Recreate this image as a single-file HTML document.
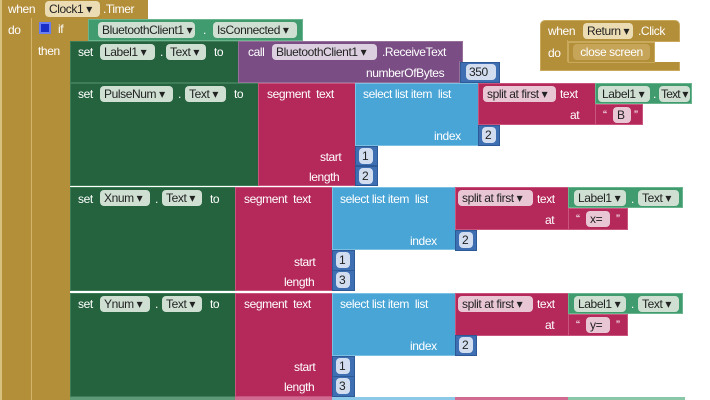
<!DOCTYPE html>
<html><head><meta charset="utf-8"><style>
body{margin:0;width:710px;height:400px;overflow:hidden;background:#fff;position:relative;font-family:"Liberation Sans",Arial,sans-serif;font-size:12px;letter-spacing:-0.4px}
.b{position:absolute;box-sizing:border-box}
.t{position:absolute;color:#fff;white-space:nowrap;line-height:14px}
.p{position:absolute;height:16px;line-height:16px;border-radius:4px;padding:0 4px;color:#222;white-space:nowrap;box-sizing:border-box;overflow:hidden}
.g{background:#b38f3a;border:1px solid #c9a95c}
.dg{background:#25633f;border:1px solid #3e7d58}
.pk{background:#b4295a;border:1px solid #c9557e}
.lb{background:#49a5d6;border:1px solid #7cc0e4}
.pu{background:#7a4e84;border:1px solid #957099}
.cg{background:#409c6e;border:1px solid #6ab58e}
.nb{background:#3d6fb2;border:1px solid #2d5a96}
.pg{background:#cfe0d3}
.pp{background:#e9c6d4}
.pn{background:#dcd0e0}
.pb{background:#d2def0;padding:0 3px}
.py{background:#ecdcb4}
</style></head><body>

<div class="b g" style="left:0;top:0;width:148px;height:19px;border:none"></div>
<div class="b g" style="left:0;top:0;width:31px;height:400px;border:none;border-left:2px solid #d8c07e"></div>
<div class="b" style="left:31px;top:18px;width:1px;height:382px;background:#d2b46c"></div>
<div class="t" style="left:8px;top:2px">when</div>
<div class="p py" style="left:45px;top:1px;width:55px">Clock1 ▾</div>
<div class="t" style="left:103px;top:2px">.Timer</div>
<div class="t" style="left:8px;top:23px">do</div>

<div class="b g" style="left:32px;top:18px;width:58px;height:23px;border:none"></div>
<div class="b g" style="left:32px;top:18px;width:38px;height:382px;border:none"></div>
<div class="b" style="left:39px;top:22px;width:12px;height:12px;background:#1a2ec8;border:2px solid #6c7ff0"></div>
<div class="t" style="left:58px;top:22px">if</div>
<div class="t" style="left:38px;top:44px">then</div>

<div class="b cg" style="left:88px;top:19px;width:215px;height:22px"></div>
<div class="p pg" style="left:98px;top:22px;width:97px">BluetoothClient1 ▾</div>
<div class="t" style="left:203px;top:23px">.</div>
<div class="p pg" style="left:213px;top:22px;width:84px">IsConnected ▾</div>

<div class="b dg" style="left:70px;top:41px;width:170px;height:42px"></div>
<div class="t" style="left:78px;top:45px">set</div>
<div class="p pg" style="left:100px;top:44px;width:55px">Label1 ▾</div>
<div class="t" style="left:160px;top:45px">.</div>
<div class="p pg" style="left:166px;top:44px;width:40px">Text ▾</div>
<div class="t" style="left:214px;top:45px">to</div>
<div class="b pu" style="left:238px;top:41px;width:225px;height:22px"></div>
<div class="b pu" style="left:238px;top:61px;width:222px;height:22px;border-top:none"></div>
<div class="t" style="left:248px;top:45px">call</div>
<div class="p pn" style="left:272px;top:44px;width:105px">BluetoothClient1 ▾</div>
<div class="t" style="left:382px;top:45px">.ReceiveText</div>
<div class="t" style="left:366px;top:66px">numberOfBytes</div>
<div class="b nb" style="left:460px;top:62px;width:40px;height:21px"></div>
<div class="p pb" style="left:466px;top:64px;width:30px">350</div>

<div class="b g" style="left:540px;top:20px;width:140px;height:22px;border-radius:5px 5px 0 0"></div>
<div class="b g" style="left:540px;top:40px;width:28px;height:31px;border-radius:0 0 0 5px;border-top:none"></div>
<div class="b g" style="left:540px;top:62px;width:140px;height:9px;border-top:none"></div>
<div class="t" style="left:548px;top:24px">when</div>
<div class="p py" style="left:583px;top:23px;width:50px">Return ▾</div>
<div class="t" style="left:638px;top:24px">.Click</div>
<div class="t" style="left:548px;top:46px">do</div>
<div class="b g" style="left:568px;top:42px;width:87px;height:21px"></div>
<div class="p py" style="left:573px;top:44px;width:77px;background:#c6a458;color:#fff;text-align:center">close screen</div>

<div class="b dg" style="left:70px;top:83px;width:190px;height:103px"></div>
<div class="t" style="left:78px;top:87px">set</div>
<div class="p pg" style="left:100px;top:86px;width:73px">PulseNum ▾</div>
<div class="t" style="left:178px;top:87px">.</div>
<div class="p pg" style="left:185px;top:86px;width:41px">Text ▾</div>
<div class="t" style="left:234px;top:87px">to</div>
<div class="b pk" style="left:258px;top:83px;width:98px;height:103px"></div>
<div class="t" style="left:267px;top:87px">segment&nbsp; text</div>
<div class="t" style="left:320px;top:150px">start</div>
<div class="t" style="left:309px;top:170px">length</div>
<div class="b lb" style="left:355px;top:83px;width:124px;height:63px"></div>
<div class="t" style="left:363px;top:87px">select list item&nbsp; list</div>
<div class="t" style="left:434px;top:129px">index</div>
<div class="b pk" style="left:478px;top:83px;width:118px;height:42px"></div>
<div class="p pp" style="left:483px;top:86px;width:73px">split at first ▾</div>
<div class="t" style="left:560px;top:87px">text</div>
<div class="t" style="left:570px;top:108px">at</div>
<div class="b cg" style="left:595px;top:83px;width:97px;height:21px"></div>
<div class="p pg" style="left:598px;top:86px;width:52px">Label1 ▾</div>
<div class="t" style="left:653px;top:87px">.</div>
<div class="p pg" style="left:659px;top:86px;width:31px;padding:0 2px;letter-spacing:-0.8px">Text ▾</div>
<div class="b pk" style="left:595px;top:104px;width:48px;height:21px"></div>
<div class="t" style="left:603px;top:108px">“</div>
<div class="p pp" style="left:613px;top:107px;width:18px">B</div>
<div class="t" style="left:634px;top:108px">”</div>
<div class="b nb" style="left:478px;top:125px;width:22px;height:21px"></div>
<div class="p pb" style="left:482px;top:127px;width:14px">2</div>
<div class="b nb" style="left:355px;top:146px;width:23px;height:20px"></div>
<div class="p pb" style="left:359px;top:148px;width:14px">1</div>
<div class="b nb" style="left:355px;top:166px;width:23px;height:20px"></div>
<div class="p pb" style="left:359px;top:168px;width:14px">2</div>

<div class="b dg" style="left:70px;top:187px;width:167px;height:104px"></div>
<div class="t" style="left:78px;top:192px">set</div>
<div class="p pg" style="left:100px;top:190px;width:50px">Xnum ▾</div>
<div class="t" style="left:155px;top:192px">.</div>
<div class="p pg" style="left:162px;top:190px;width:40px">Text ▾</div>
<div class="t" style="left:210px;top:192px">to</div>
<div class="b pk" style="left:235px;top:187px;width:98px;height:104px"></div>
<div class="t" style="left:244px;top:192px">segment&nbsp; text</div>
<div class="t" style="left:294px;top:255px">start</div>
<div class="t" style="left:284px;top:275px">length</div>
<div class="b lb" style="left:332px;top:187px;width:124px;height:63px"></div>
<div class="t" style="left:340px;top:192px">select list item&nbsp; list</div>
<div class="t" style="left:410px;top:234px">index</div>
<div class="b pk" style="left:455px;top:187px;width:114px;height:43px"></div>
<div class="p pp" style="left:458px;top:190px;width:75px">split at first ▾</div>
<div class="t" style="left:537px;top:192px">text</div>
<div class="t" style="left:545px;top:213px">at</div>
<div class="b cg" style="left:568px;top:187px;width:115px;height:21px"></div>
<div class="p pg" style="left:574px;top:190px;width:52px">Label1 ▾</div>
<div class="t" style="left:631px;top:192px">.</div>
<div class="p pg" style="left:638px;top:190px;width:41px">Text ▾</div>
<div class="b pk" style="left:568px;top:208px;width:60px;height:22px"></div>
<div class="t" style="left:576px;top:212px">“</div>
<div class="p pp" style="left:586px;top:211px;width:24px">x=</div>
<div class="t" style="left:616px;top:212px">”</div>
<div class="b nb" style="left:455px;top:230px;width:22px;height:21px"></div>
<div class="p pb" style="left:459px;top:232px;width:14px">2</div>
<div class="b nb" style="left:332px;top:250px;width:23px;height:21px"></div>
<div class="p pb" style="left:336px;top:252px;width:14px">1</div>
<div class="b nb" style="left:332px;top:270px;width:23px;height:21px"></div>
<div class="p pb" style="left:336px;top:272px;width:14px">3</div>

<div class="b dg" style="left:70px;top:293px;width:167px;height:104px"></div>
<div class="t" style="left:78px;top:297px">set</div>
<div class="p pg" style="left:100px;top:296px;width:50px">Ynum ▾</div>
<div class="t" style="left:155px;top:297px">.</div>
<div class="p pg" style="left:162px;top:296px;width:40px">Text ▾</div>
<div class="t" style="left:210px;top:297px">to</div>
<div class="b pk" style="left:235px;top:293px;width:98px;height:104px"></div>
<div class="t" style="left:244px;top:297px">segment&nbsp; text</div>
<div class="t" style="left:294px;top:360px">start</div>
<div class="t" style="left:284px;top:380px">length</div>
<div class="b lb" style="left:332px;top:293px;width:124px;height:63px"></div>
<div class="t" style="left:340px;top:297px">select list item&nbsp; list</div>
<div class="t" style="left:410px;top:339px">index</div>
<div class="b pk" style="left:455px;top:293px;width:114px;height:43px"></div>
<div class="p pp" style="left:458px;top:296px;width:75px">split at first ▾</div>
<div class="t" style="left:537px;top:297px">text</div>
<div class="t" style="left:545px;top:318px">at</div>
<div class="b cg" style="left:568px;top:293px;width:115px;height:21px"></div>
<div class="p pg" style="left:574px;top:296px;width:52px">Label1 ▾</div>
<div class="t" style="left:631px;top:297px">.</div>
<div class="p pg" style="left:638px;top:296px;width:41px">Text ▾</div>
<div class="b pk" style="left:568px;top:314px;width:60px;height:22px"></div>
<div class="t" style="left:576px;top:318px">“</div>
<div class="p pp" style="left:586px;top:317px;width:24px">y=</div>
<div class="t" style="left:616px;top:318px">”</div>
<div class="b nb" style="left:455px;top:335px;width:22px;height:21px"></div>
<div class="p pb" style="left:459px;top:337px;width:14px">2</div>
<div class="b nb" style="left:332px;top:356px;width:23px;height:21px"></div>
<div class="p pb" style="left:336px;top:358px;width:14px">1</div>
<div class="b nb" style="left:332px;top:376px;width:23px;height:21px"></div>
<div class="p pb" style="left:336px;top:378px;width:14px">3</div>

<div class="b" style="left:70px;top:397px;width:165px;height:3px;background:#5f9a78"></div>
<div class="b" style="left:235px;top:397px;width:97px;height:3px;background:#d06a90"></div>
<div class="b" style="left:332px;top:397px;width:123px;height:3px;background:#8cc8e8"></div>
<div class="b" style="left:455px;top:397px;width:113px;height:3px;background:#d06a90"></div>
<div class="b" style="left:568px;top:397px;width:117px;height:3px;background:#8ac6a8"></div>
</body></html>
